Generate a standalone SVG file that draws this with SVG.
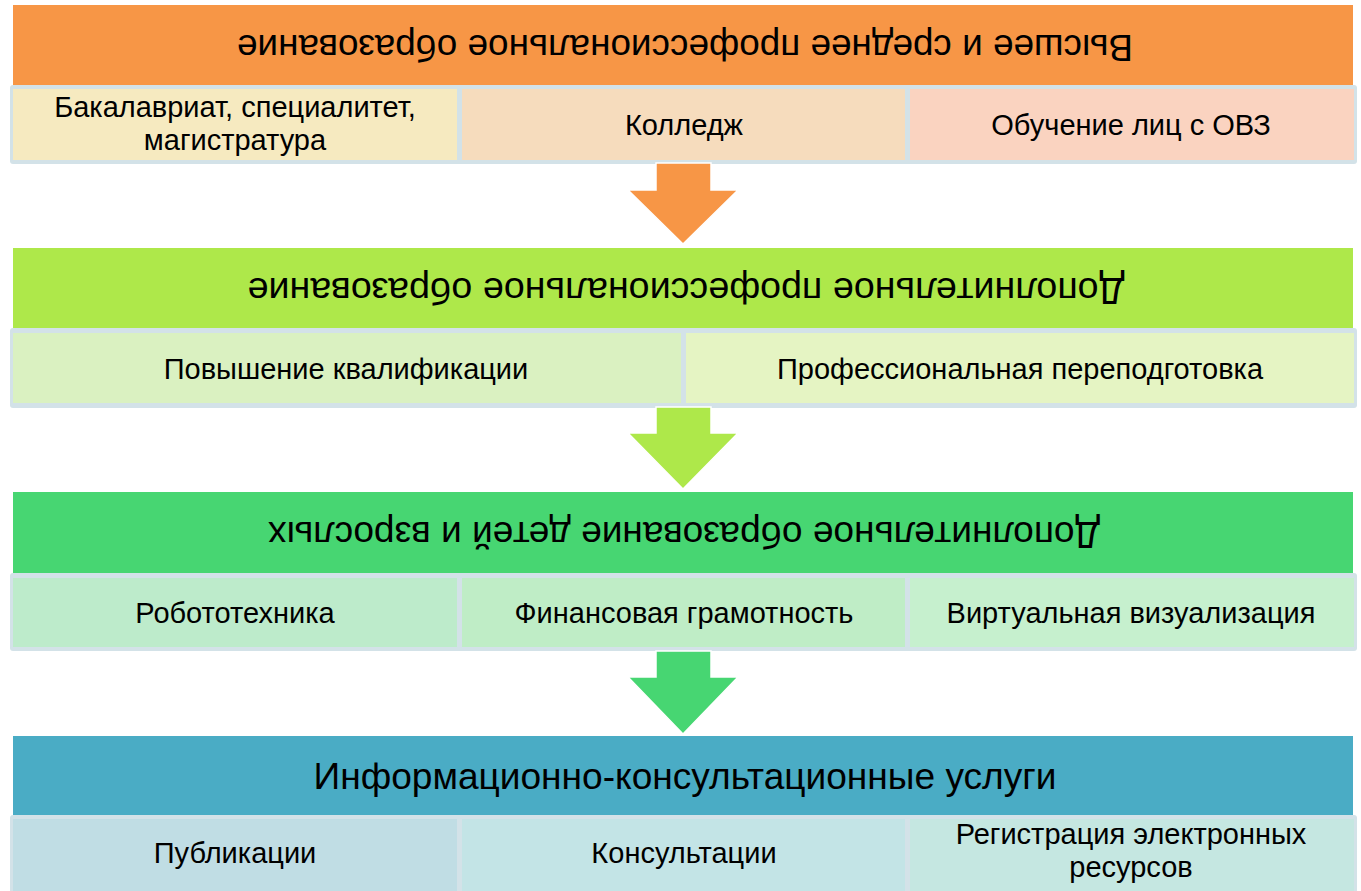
<svg xmlns="http://www.w3.org/2000/svg" width="1361" height="891" viewBox="0 0 1361 891">
<style>
text{font-family:"Liberation Sans",Arial,sans-serif;fill:#000;text-anchor:middle}
.hd{font-size:37px}
.sb{font-size:29px}
.frame{fill:#D3E2E8}
.arrow{stroke:#fff;stroke-width:1.5;stroke-linejoin:miter}
</style>
<rect width="1361" height="891" fill="#fff"/>

<g id="band1">
<rect x="13" y="5" width="1340" height="80" fill="#F79646"/>
<text class="hd" x="685" y="58" transform="rotate(180 685 46.5)" textLength="896" lengthAdjust="spacingAndGlyphs">Высшее и среднее профессиональное образование</text>
</g>
<g id="row1">
<rect class="frame" x="10" y="85" width="1347" height="79" rx="3"/>
<rect x="13" y="89" width="444" height="71" fill="#F6EAC0"/>
<rect x="462" y="89" width="443" height="71" fill="#F6DCBD"/>
<rect x="910" y="89" width="444" height="71" fill="#FAD3C0"/>
</g>
<g id="n-bakalavriat"><text class="sb" x="235" y="117">Бакалавриат, специалитет,</text><text class="sb" x="235" y="150">магистратура</text></g>
<g id="n-college"><text class="sb" x="684" y="135">Колледж</text></g>
<g id="n-ovz"><text class="sb" x="1131" y="135">Обучение лиц с ОВЗ</text></g>

<g id="band2">
<rect x="13" y="248" width="1340" height="80" fill="#AEE84A"/>
<text class="hd" x="686" y="301" transform="rotate(180 686 289.5)" textLength="877" lengthAdjust="spacingAndGlyphs">Дополнительное  профессиональное образование</text>
</g>
<g id="row2">
<rect class="frame" x="10" y="328" width="1347" height="80" rx="3"/>
<rect x="13" y="333" width="668" height="70" fill="#DAF1C1"/>
<rect x="686" y="333" width="668" height="70" fill="#E5F4C3"/>
</g>
<g id="n-qualification"><text class="sb" x="346" y="379">Повышение квалификации</text></g>
<g id="n-retraining"><text class="sb" x="1020" y="379">Профессиональная переподготовка</text></g>

<g id="band3">
<rect x="13" y="492" width="1340" height="81" fill="#47D672"/>
<text class="hd" x="684" y="545" transform="rotate(180 684 533.5)" textLength="832" lengthAdjust="spacingAndGlyphs">Дополнительное образование детей и взрослых</text>
</g>
<g id="row3">
<rect class="frame" x="10" y="573" width="1347" height="78" rx="3"/>
<rect x="13" y="578" width="444" height="69" fill="#BDEBCB"/>
<rect x="462" y="578" width="443" height="69" fill="#BFEDC6"/>
<rect x="910" y="578" width="444" height="69" fill="#C6F0CE"/>
</g>
<g id="n-robotics"><text class="sb" x="235" y="623">Робототехника</text></g>
<g id="n-finance"><text class="sb" x="684" y="623">Финансовая грамотность</text></g>
<g id="n-virtual"><text class="sb" x="1131" y="623">Виртуальная визуализация</text></g>

<g id="band4">
<rect x="13" y="736" width="1340" height="80" fill="#4AACC5"/>
<text class="hd" x="685" y="789" textLength="743" lengthAdjust="spacingAndGlyphs">Информационно-консультационные услуги</text>
</g>
<g id="row4">
<rect class="frame" x="10" y="815" width="1347" height="79" rx="3"/>
<rect x="13" y="819" width="444" height="72" fill="#C0DDE4"/>
<rect x="462" y="819" width="443" height="72" fill="#C3E4E6"/>
<rect x="910" y="819" width="444" height="72" fill="#C5E7E1"/>
</g>
<g id="n-publications"><text class="sb" x="235" y="863">Публикации</text></g>
<g id="n-consultations"><text class="sb" x="684" y="863">Консультации</text></g>
<g id="n-registration"><text class="sb" x="1131" y="844">Регистрация электронных</text><text class="sb" x="1131" y="877">ресурсов</text></g>

<g id="connectors">
<polygon class="arrow" fill="#F79646" points="656,163 711,163 711,190 738,190 683,244 628,190 656,190"/>
<polygon class="arrow" fill="#AEE84A" points="656,407 711,407 711,433 738,433 683,489 628,433 656,433"/>
<polygon class="arrow" fill="#47D672" points="656,651 711,651 711,677 738,677 683,734 628,677 656,677"/>
</g>
</svg>
